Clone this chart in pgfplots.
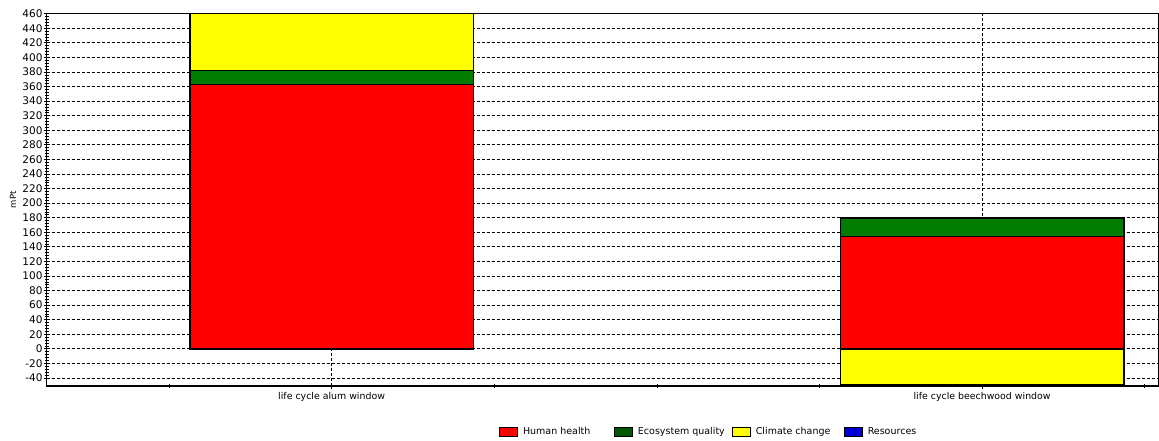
\documentclass[border=0pt]{standalone}
\usepackage{pgfplots}
\pgfplotsset{compat=1.18}
\usepackage{fontspec}
\setmainfont{DejaVu Sans}
\definecolor{hh}{RGB}{255,0,0}
\definecolor{eq}{RGB}{0,125,0}
\definecolor{cc}{RGB}{255,255,0}
\definecolor{rs}{RGB}{0,0,210}
\begin{document}
\begin{tikzpicture}
\begin{axis}[
  at={(46.7pt,55pt)}, anchor=south west,
  scale only axis, width=1112.3pt, height=372.3pt,
  xmin=-0.438, xmax=1.272, ymin=-51, ymax=460,
  ytick={-40,-20,...,460},
  minor y tick num=4,
  xtick={0,1},
  xticklabels={life cycle alum window, life cycle beechwood window},
  minor xtick={-0.25,0.25,0.5,0.75,1.25},
  tick pos=left,
  tick align=center,
  ymajorgrids, xmajorgrids,
  major grid style={black, dash pattern=on 3pt off 2pt, line width=0.8pt},
  axis line style={black, line width=1.2pt},
  major tick style={black, line width=0.8pt},
  minor tick style={black, line width=0.6pt},
  major tick length=6pt, minor tick length=4pt,
  /pgf/number format/assume math mode=true,
  yticklabel style={font=\fontsize{10.5}{10}\selectfont, inner sep=1pt},
  xticklabel style={font=\fontsize{9.4}{10}\selectfont},
  ylabel={mPt},
  ylabel style={at={(axis description cs:-0.0303,0.5)}, anchor=center, font=\fontsize{8.5}{8}\selectfont},
  legend image code/.code={\draw[#1, line width=0.9pt] (0pt,-4.5pt) rectangle (18pt,4.5pt);},
  legend columns=4,
  legend style={at={(axis description cs:0.4066,-0.1236)}, anchor=west, draw=none, fill=none, inner sep=0pt,
    font=\fontsize{9.5}{10}\selectfont,
    nodes={inner sep=0pt},
    /tikz/every odd column/.append style={column sep=5pt},
    /tikz/every even column/.append style={column sep=0pt}},
  legend cell align=left,
]
% cumulative stack heights (drawn back to front)
\addplot[ybar, bar width=0.436, bar shift=0pt, fill=cc, draw=black, line width=1.5pt, forget plot]
  coordinates {(0,460) (1,-49.1)};
\addplot[ybar, bar width=0.436, bar shift=0pt, fill=eq, draw=black, line width=1.5pt, forget plot]
  coordinates {(0,381.8) (1,179.7)};
\addplot[ybar, bar width=0.436, bar shift=0pt, fill=hh, draw=black, line width=1.5pt, forget plot]
  coordinates {(0,362.6) (1,154.4)};
\addlegendimage{fill=hh, draw=black}
\addlegendentry{\makebox[91pt][l]{Human health}}
\addlegendimage{fill=eq!70!black, draw=black}
\addlegendentry{\makebox[94pt][l]{Ecosystem quality}}
\addlegendimage{fill=cc, draw=black}
\addlegendentry{\makebox[88pt][l]{Climate change}}
\addlegendimage{fill=rs, draw=black}
\addlegendentry{Resources}
\end{axis}
\pgfresetboundingbox
\path[use as bounding box] (0,0) rectangle (1159pt,441pt);
\end{tikzpicture}
\end{document}
